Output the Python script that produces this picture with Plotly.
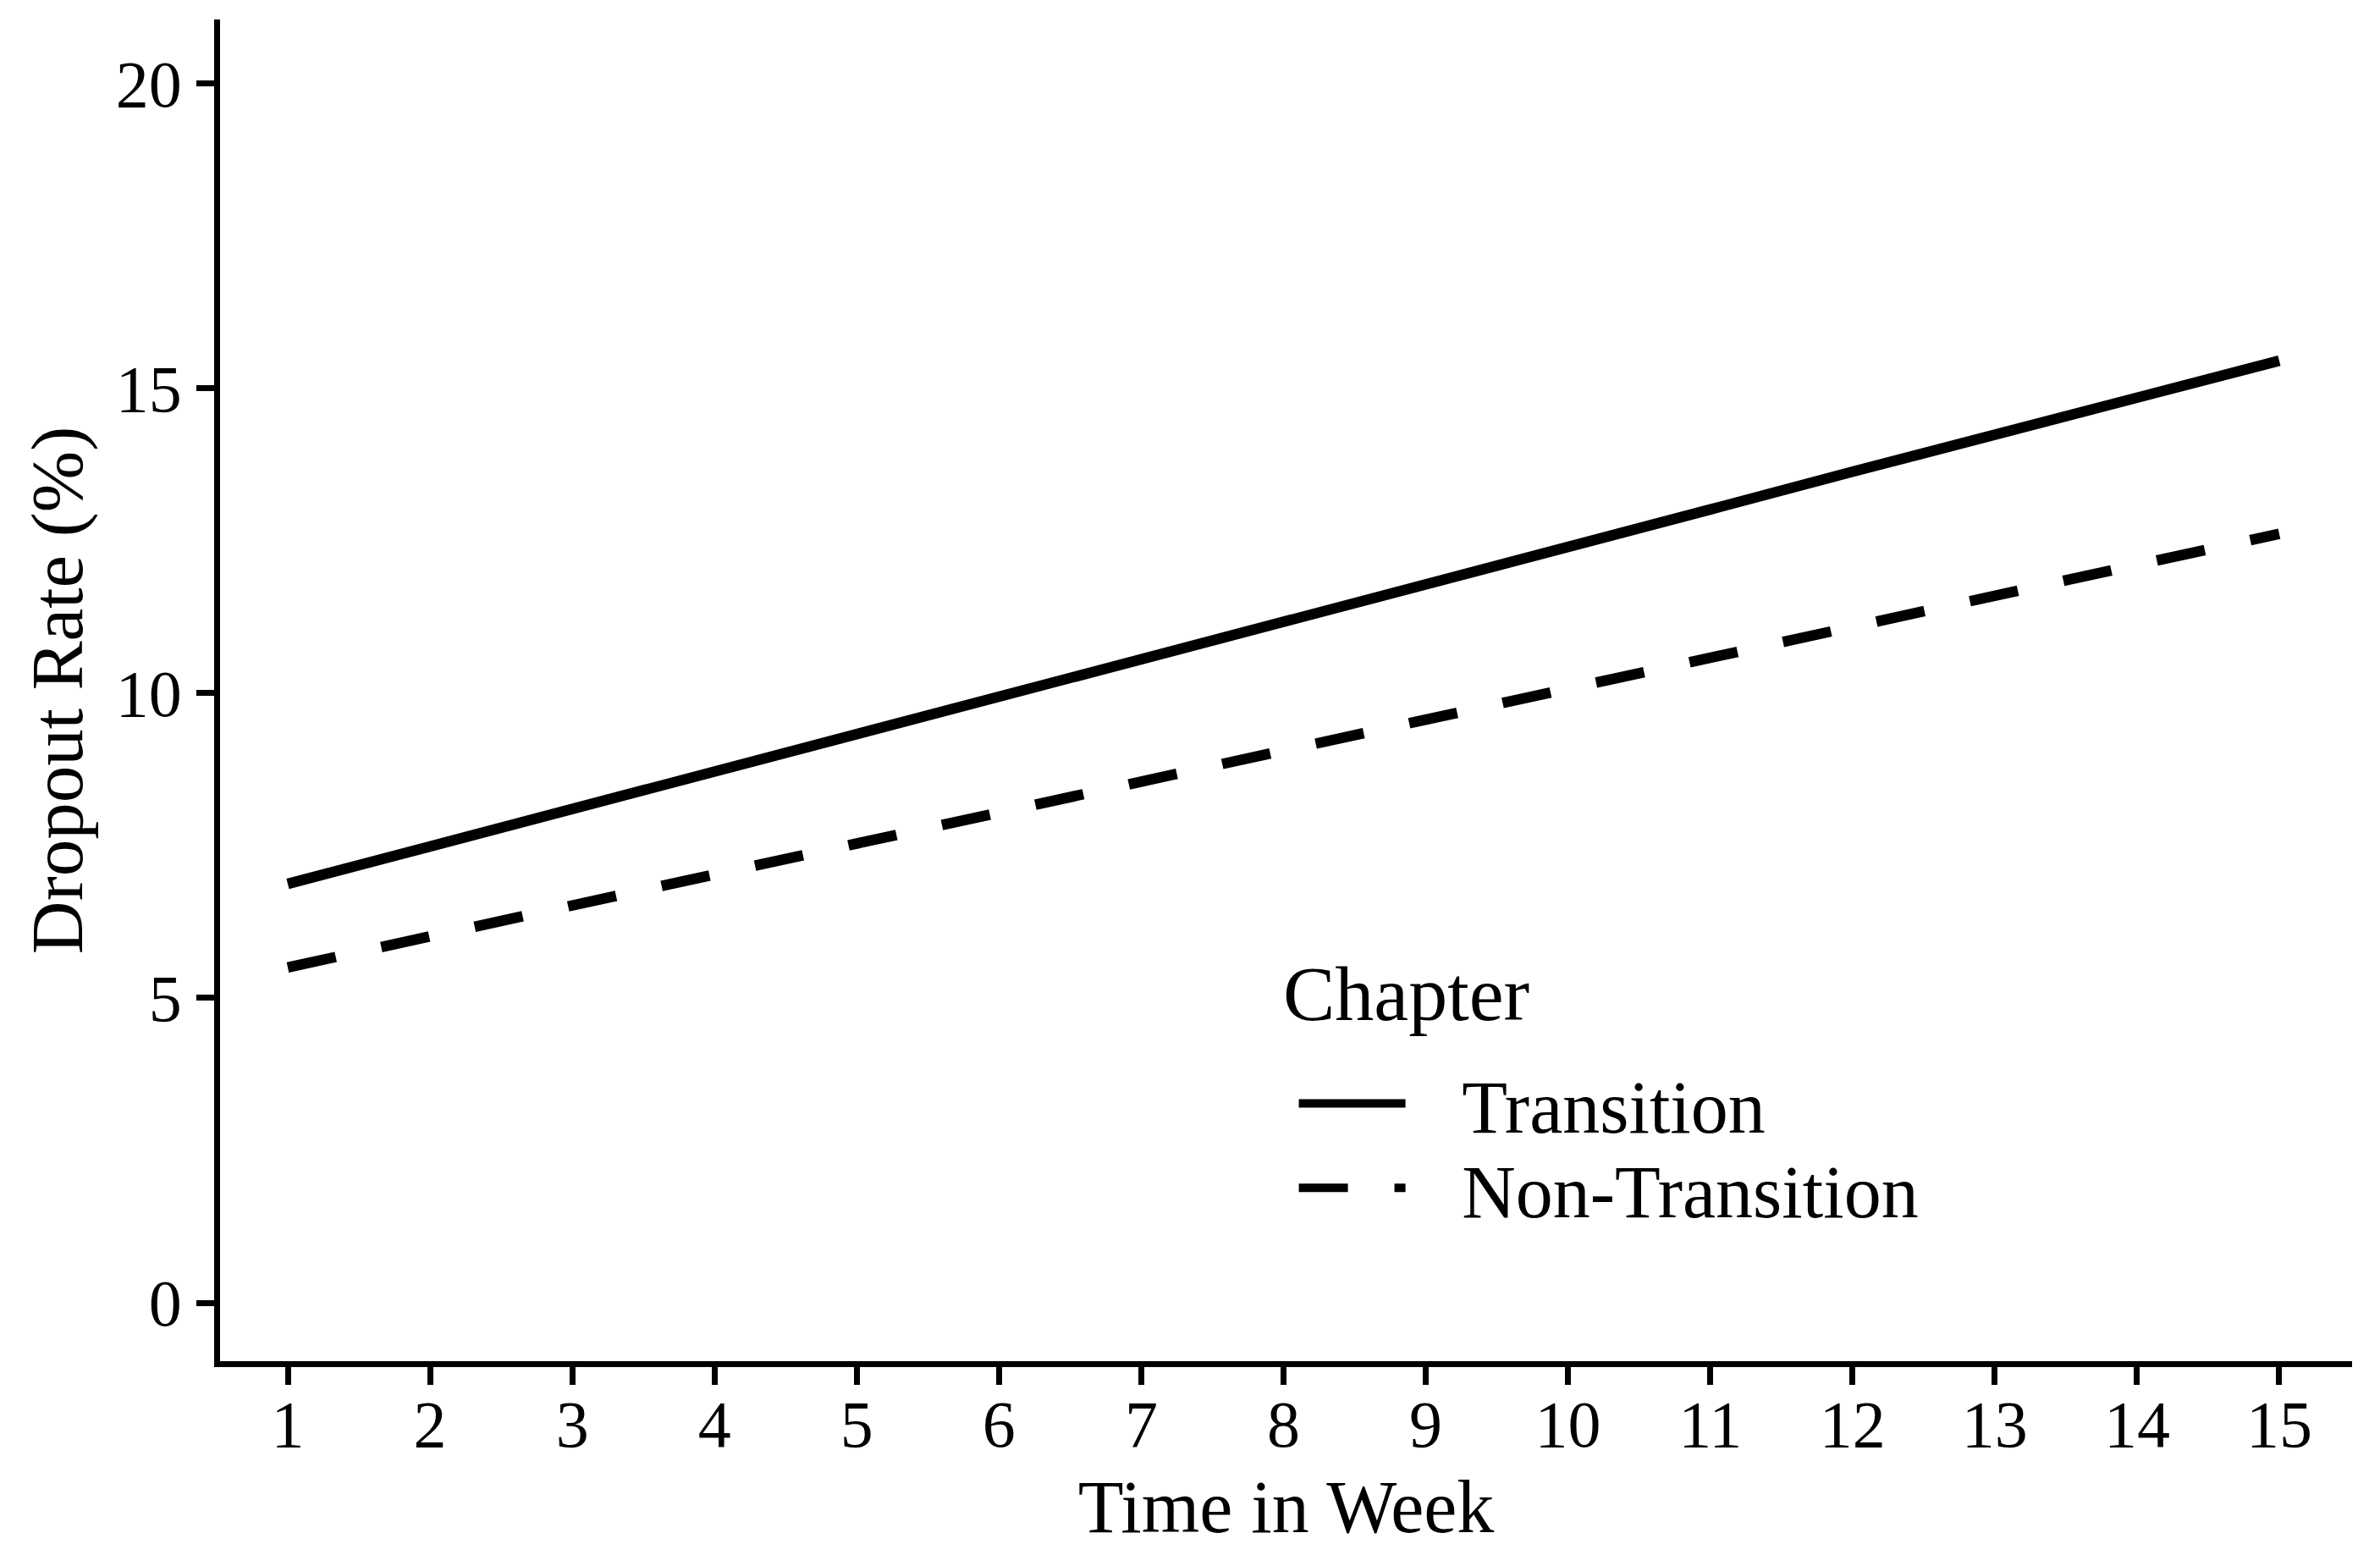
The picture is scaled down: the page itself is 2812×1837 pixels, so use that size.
import plotly.graph_objects as go

weeks = list(range(1, 16))
transition = [6.87, 7.48, 8.09, 8.70, 9.32, 9.93, 10.55, 11.16, 11.78, 12.40, 13.01, 13.63, 14.24, 14.85, 15.45]
non_transition = [5.50, 6.01, 6.52, 7.02, 7.53, 8.04, 8.55, 9.06, 9.57, 10.07, 10.58, 11.09, 11.60, 12.10, 12.61]
series_names = ["Transition", "Non-Transition"]
legend_title = "Chapter"
x_ticks = list(range(1, 16))
y_ticks = [0, 5, 10, 15, 20]

FONT = "Liberation Serif"
PAD = "\u00a0\u00a0\u2009"

fig = go.Figure()
fig.add_trace(go.Scatter(x=weeks, y=transition, mode="lines", name=PAD + series_names[0],
                         legend="legend",
                         line=dict(color="black", width=12.5, dash="solid")))
fig.add_trace(go.Scatter(x=weeks, y=non_transition, mode="lines", name=PAD + series_names[1],
                         legend="legend2",
                         line=dict(color="black", width=12.5, dash="58px,55px")))

axis_common = dict(showline=True, linecolor="black", linewidth=6.5, ticks="outside",
                   ticklen=21, tickwidth=6.5, tickcolor="black", showgrid=False, zeroline=False,
                   automargin=False,
                   tickfont=dict(family=FONT, size=78, color="black"))

legend_common = dict(xanchor="left", yanchor="middle", bgcolor="rgba(0,0,0,0)", borderwidth=0,
                     font=dict(family=FONT, size=88, color="black"), itemwidth=126)

fig.update_layout(
    width=2812, height=1837,
    margin=dict(l=260, r=33, t=23, b=229, autoexpand=False),
    paper_bgcolor="white", plot_bgcolor="white",
    font=dict(family=FONT, color="black"),
    xaxis=dict(range=[0.524, 15.512], tickvals=x_ticks, ticktext=[str(v) for v in x_ticks],
               ticklabelstandoff=-20,
               title=dict(text="Time in Week", font=dict(family=FONT, size=88, color="black"), standoff=26),
               **axis_common),
    yaxis=dict(range=[-0.958, 21.047], tickvals=y_ticks, ticktext=[str(v) for v in y_ticks],
               ticklabelstandoff=2,
               title=dict(text="Dropout Rate (%)", font=dict(family=FONT, size=87, color="black"), standoff=13),
               **axis_common),
    legend=dict(x=0.504, y=0.192, **legend_common),
    legend2=dict(x=0.504, y=0.129, **legend_common),
    annotations=[dict(text=legend_title, xref="paper", yref="paper", x=0.498, y=0.274,
                      xanchor="left", yanchor="middle", showarrow=False,
                      font=dict(family=FONT, size=92, color="black"))],
    showlegend=True,
)

fig.write_html("out.html", config={"displayModeBar": False},
               post_script="document.body.style.margin='0';")
